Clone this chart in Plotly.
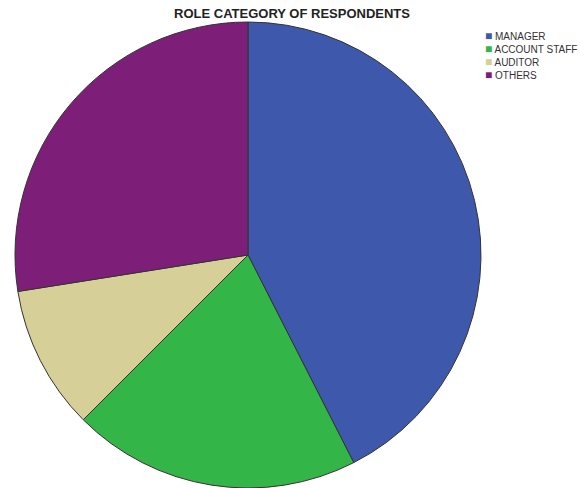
import plotly.graph_objects as go

labels = ["MANAGER", "ACCOUNT STAFF", "AUDITOR", "OTHERS"]
values = [17, 8, 4, 11]
colors = ["#3e58ac", "#34b548", "#d6cf98", "#7d1f79"]
title_text = "ROLE CATEGORY OF RESPONDENTS"

W, H = 580, 488
cx, cy, r = 248, 255, 233

fig = go.Figure(go.Pie(
    labels=labels, values=values, sort=False, direction="clockwise", rotation=0,
    marker=dict(colors=colors, line=dict(color="#333333", width=1)),
    textinfo="none", hoverinfo="label+percent", showlegend=False,
    domain=dict(x=[(cx - r) / W, (cx + r) / W], y=[max(0, (H - cy - r) / H), (H - cy + r) / H]),
))

legend_text = "<br>".join(
    f"<span style='color:{c};font-size:12px'>■</span> {lab}" for lab, c in zip(labels, colors)
)
fig.add_annotation(
    text=legend_text, xref="paper", yref="paper", x=483 / W, y=1 - 27 / H,
    xanchor="left", yanchor="top", align="left", showarrow=False,
    font=dict(family="Liberation Sans, Arial", size=10, color="#333333"),
)

fig.update_layout(
    width=W, height=H, margin=dict(l=0, r=0, t=0, b=0),
    paper_bgcolor="white", plot_bgcolor="white",
    title=dict(text=f"<b>{title_text}</b>", x=292 / W, xanchor="center", y=1 - 13 / H, yanchor="middle",
               font=dict(family="Liberation Sans, Arial", size=13, color="#222222")),
)
fig.write_html("out.html", config={"displayModeBar": False},
               post_script="document.body.style.margin='0';document.body.style.overflow='hidden';")
